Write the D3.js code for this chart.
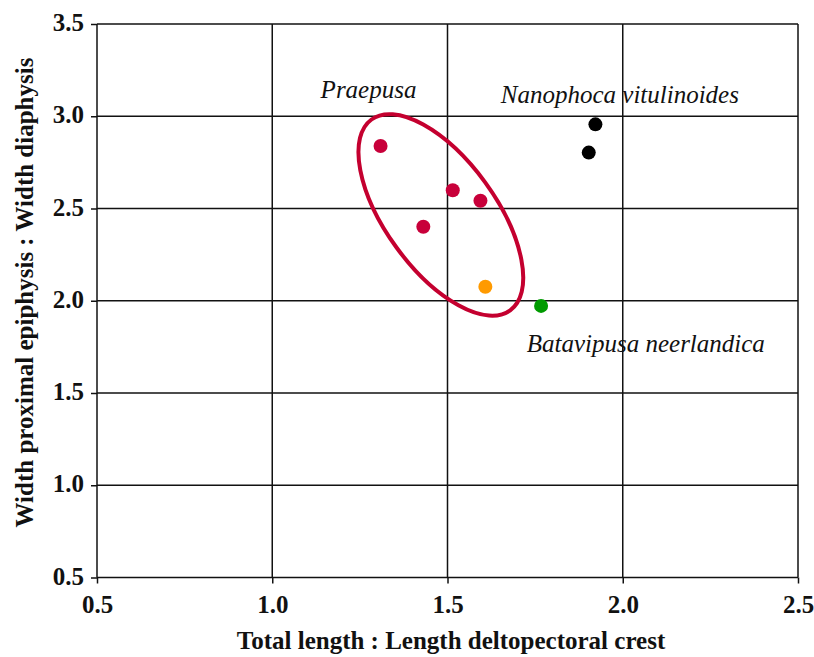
<!DOCTYPE html>
<html>
<head>
<meta charset="utf-8">
<script src="https://cdn.jsdelivr.net/npm/d3@7"></script>
<style>
  html, body { margin: 0; padding: 0; background: #fff; }
  svg { display: block; }
</style>
</head>
<body>
<svg id="chart" width="814" height="657"></svg>
<script>
// ---- Data ----
const praepusaX = [1.309, 1.431, 1.515, 1.594];
const praepusaY = [2.839, 2.401, 2.599, 2.542];
const orangeX = [1.608];
const orangeY = [2.076];
const batavipusaX = [1.767];
const batavipusaY = [1.972];
const nanophocaX = [1.903, 1.922];
const nanophocaY = [2.803, 2.956];
const xTicks = [0.5, 1.0, 1.5, 2.0, 2.5];
const yTicks = [0.5, 1.0, 1.5, 2.0, 2.5, 3.0, 3.5];
const groupLabels = ["Praepusa", "Nanophoca vitulinoides", "Batavipusa neerlandica"];
const labelX = [1.138, 1.652, 1.726];
const labelY = [3.101, 3.073, 1.724];
const xTitle = "Total length : Length deltopectoral crest";
const yTitle = "Width proximal epiphysis : Width diaphysis";
// ellipse enclosing Praepusa (centre in data units)
const ellipseCenter = [1.481, 2.465];

// ---- Layout ----
const svg = d3.select("#chart");
const x = d3.scaleLinear().domain([0.5, 2.5]).range([97, 798]);
const y = d3.scaleLinear().domain([0.5, 3.5]).range([577.5, 24]);
const serif = "'Liberation Serif', 'Times New Roman', Times, serif";

// grid
svg.append("g").selectAll("line").data(yTicks).join("line")
  .attr("x1", x(0.5)).attr("x2", x(2.5))
  .attr("y1", d => y(d)).attr("y2", d => y(d))
  .attr("stroke", "#111").attr("stroke-width", 1.5);
svg.append("g").selectAll("line").data(xTicks).join("line")
  .attr("y1", y(0.5)).attr("y2", y(3.5))
  .attr("x1", d => x(d)).attr("x2", d => x(d))
  .attr("stroke", "#111").attr("stroke-width", 1.5);

// axes
const fmt = d3.format(".1f");
const gx = svg.append("g").attr("transform", `translate(0,${y(0.5)})`)
  .call(d3.axisBottom(x).tickValues(xTicks).tickFormat(fmt).tickSize(6).tickPadding(12));
const gy = svg.append("g").attr("transform", `translate(${x(0.5)},0)`)
  .call(d3.axisLeft(y).tickValues(yTicks).tickFormat(fmt).tickSize(6).tickPadding(7));
[gx, gy].forEach(g => {
  g.select(".domain").remove();
  g.selectAll(".tick line").attr("stroke", "#111").attr("stroke-width", 1.5);
  g.selectAll(".tick text").attr("fill", "#111")
    .style("font-family", serif).style("font-size", "25px").style("font-weight", "bold");
});
gy.selectAll(".tick text").attr("dy", "0.26em");

// axis titles
svg.append("text").attr("x", 451).attr("y", 649)
  .attr("text-anchor", "middle").style("font-family", serif)
  .style("font-size", "25px").style("font-weight", "bold").attr("fill", "#111")
  .text(xTitle);
svg.append("text").attr("transform", `translate(33,292.5) rotate(-90)`)
  .attr("text-anchor", "middle").style("font-family", serif)
  .style("font-size", "25px").style("font-weight", "bold").attr("fill", "#111")
  .text(yTitle);

// ellipse
svg.append("ellipse")
  .attr("cx", 0).attr("cy", 0).attr("rx", 118).attr("ry", 55)
  .attr("transform", `translate(${x(ellipseCenter[0])},${y(ellipseCenter[1])}) rotate(54)`)
  .attr("fill", "none").attr("stroke", "#c4002f").attr("stroke-width", 4);

// points
function pts(xs, ys, color) {
  svg.append("g").selectAll("circle").data(xs.map((d, i) => [d, ys[i]])).join("circle")
    .attr("cx", d => x(d[0])).attr("cy", d => y(d[1])).attr("r", 7).attr("fill", color);
}
pts(praepusaX, praepusaY, "#c8003a");
pts(orangeX, orangeY, "#ff9a00");
pts(batavipusaX, batavipusaY, "#009a00");
pts(nanophocaX, nanophocaY, "#000");

// group labels
svg.append("g").selectAll("text").data(groupLabels).join("text")
  .attr("x", (d, i) => x(labelX[i])).attr("y", (d, i) => y(labelY[i]))
  .style("font-family", serif).style("font-style", "italic").style("font-size", "25px")
  .attr("fill", "#111").text(d => d);
</script>
</body>
</html>
